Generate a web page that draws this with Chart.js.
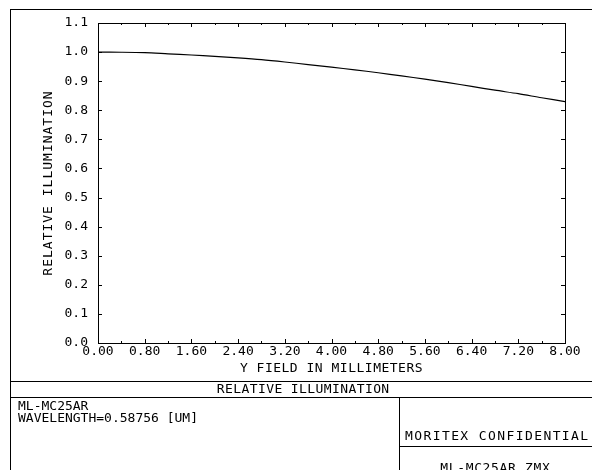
<!DOCTYPE html>
<html>
<head>
<meta charset="utf-8">
<script src="https://cdn.jsdelivr.net/npm/chart.js@4.4.1/dist/chart.umd.min.js"></script>
<style>
  html, body { margin: 0; padding: 0; background: #fff; }
  #wrap { width: 592px; height: 470px; position: relative; }
</style>
</head>
<body>
<div id="wrap"><canvas id="c" width="592" height="470"></canvas></div>
<script>
// ---- data ----
const fieldMM = [0.0, 0.4, 0.8, 1.2, 1.6, 2.0, 2.4, 2.8, 3.2, 3.6, 4.0, 4.4, 4.8, 5.2, 5.6, 6.0, 6.4, 6.8, 7.2, 7.6, 8.0];
const relIllum = [1.000, 0.9995, 0.998, 0.994, 0.990, 0.985, 0.980, 0.974, 0.966, 0.957, 0.948, 0.939, 0.929, 0.918, 0.907, 0.895, 0.882, 0.869, 0.857, 0.843, 0.830];
const xRange = [0, 8];
const xStep = 0.8;
const yRange = [0, 1.1];
const yStep = 0.1;
const chartTitle = 'RELATIVE ILLUMINATION';
const xTitle = 'Y FIELD IN MILLIMETERS';
const yTitle = 'RELATIVE ILLUMINATION';
const infoLines = ['ML-MC25AR', 'WAVELENGTH=0.58756 [UM]'];
const confidential = 'MORITEX CONFIDENTIAL';
const fileName = 'ML-MC25AR.ZMX';

const FONT = "'DejaVu Sans Mono', 'Liberation Mono', monospace";
Chart.defaults.font.family = FONT;
Chart.defaults.font.size = 13;
Chart.defaults.color = '#000';

const titleSpacing = { x: '0.5px', y: '1px' };

const spacingPatch = {
  id: 'spacingPatch',
  beforeDraw(chart) {
    ['x', 'y'].forEach(id => {
      const s = chart.scales[id];
      if (s && !s._lsPatched) {
        const orig = s.drawTitle;
        s.drawTitle = function () {
          const ctx = this.ctx;
          ctx.save();
          ctx.letterSpacing = titleSpacing[id];
          orig.apply(this, arguments);
          ctx.restore();
        };
        s._lsPatched = true;
      }
    });
  }
};

function spacedText(ctx, text, x, y, ls, align) {
  ctx.save();
  ctx.letterSpacing = ls + 'px';
  let w = ctx.measureText(text).width;
  let sx = x;
  if (align === 'center') sx = x - (w - ls) / 2;
  ctx.textAlign = 'left';
  ctx.fillText(text, sx, y);
  ctx.restore();
}

const frameAndTicks = {
  id: 'frameAndTicks',
  afterDraw(chart) {
    const ctx = chart.ctx;
    const a = chart.chartArea;
    const xs = chart.scales.x, ys = chart.scales.y;
    ctx.save();
    ctx.strokeStyle = '#000';
    ctx.lineWidth = 1;
    // plot border
    ctx.strokeRect(Math.round(a.left) + 0.5, Math.round(a.top) + 0.5, Math.round(a.right - a.left), Math.round(a.bottom - a.top));
    // inward ticks
    ctx.beginPath();
    for (let v = xRange[0]; v <= xRange[1] + 1e-9; v += xStep / 2) {
      const major = Math.abs(v / xStep - Math.round(v / xStep)) < 1e-6;
      const len = major ? 4 : 2;
      const px = Math.round(xs.getPixelForValue(v)) + 0.5;
      ctx.moveTo(px, a.bottom); ctx.lineTo(px, a.bottom - len);
      ctx.moveTo(px, a.top); ctx.lineTo(px, a.top + len);
    }
    for (let v = yRange[0]; v <= yRange[1] + 1e-9; v += yStep) {
      const py = Math.round(ys.getPixelForValue(v)) + 0.5;
      ctx.moveTo(a.left, py); ctx.lineTo(a.left + 4, py);
      ctx.moveTo(a.right, py); ctx.lineTo(a.right - 4, py);
    }
    ctx.stroke();

    // outer frame and title block
    ctx.beginPath();
    ctx.moveTo(10, 9.5); ctx.lineTo(592, 9.5);
    ctx.moveTo(10.5, 9); ctx.lineTo(10.5, 470);
    ctx.moveTo(10, 381.5); ctx.lineTo(592, 381.5);
    ctx.moveTo(10, 397.5); ctx.lineTo(592, 397.5);
    ctx.moveTo(399.5, 397); ctx.lineTo(399.5, 470);
    ctx.moveTo(399, 446.5); ctx.lineTo(592, 446.5);
    ctx.stroke();

    ctx.fillStyle = '#000';
    ctx.font = '13px ' + FONT;
    ctx.textBaseline = 'middle';
    spacedText(ctx, chartTitle, 303, 389.5, 0.4, 'center');
    spacedText(ctx, infoLines[0], 18, 406.5, 0, 'left');
    spacedText(ctx, infoLines[1], 18, 418.5, 0, 'left');
    spacedText(ctx, confidential, 405, 437, 1.4, 'left');
    spacedText(ctx, fileName, 495, 468.5, 0.65, 'center');
    ctx.restore();
  }
};

new Chart(document.getElementById('c'), {
  type: 'line',
  data: {
    datasets: [{
      data: fieldMM.map((x, i) => ({ x: x, y: relIllum[i] })),
      borderColor: '#000',
      borderWidth: 1.2,
      pointRadius: 0,
      tension: 0.3,
      fill: false
    }]
  },
  options: {
    responsive: false,
    animation: false,
    devicePixelRatio: 1,
    layout: { padding: { left: 0, top: 23, right: 27, bottom: 89 } },
    plugins: { legend: { display: false }, tooltip: { enabled: false } },
    scales: {
      x: {
        type: 'linear',
        min: xRange[0], max: xRange[1],
        border: { display: false },
        grid: { display: false, drawTicks: false },
        ticks: { stepSize: xStep, padding: 1, maxRotation: 0, autoSkip: false,
                 callback: v => Number(v).toFixed(2) },
        title: { display: true, text: xTitle, padding: { top: 0, bottom: 5 } },
        afterFit: s => { s.height = 38; }
      },
      y: {
        min: yRange[0], max: yRange[1],
        border: { display: false },
        grid: { display: false, drawTicks: false },
        ticks: { stepSize: yStep, padding: 10, autoSkip: false,
                 callback: v => Number(v).toFixed(1) },
        title: { display: true, text: yTitle, padding: { top: 41, bottom: 0 } },
        afterFit: s => { s.width = 98; }
      }
    }
  },
  plugins: [spacingPatch, frameAndTicks]
});
</script>
</body>
</html>
